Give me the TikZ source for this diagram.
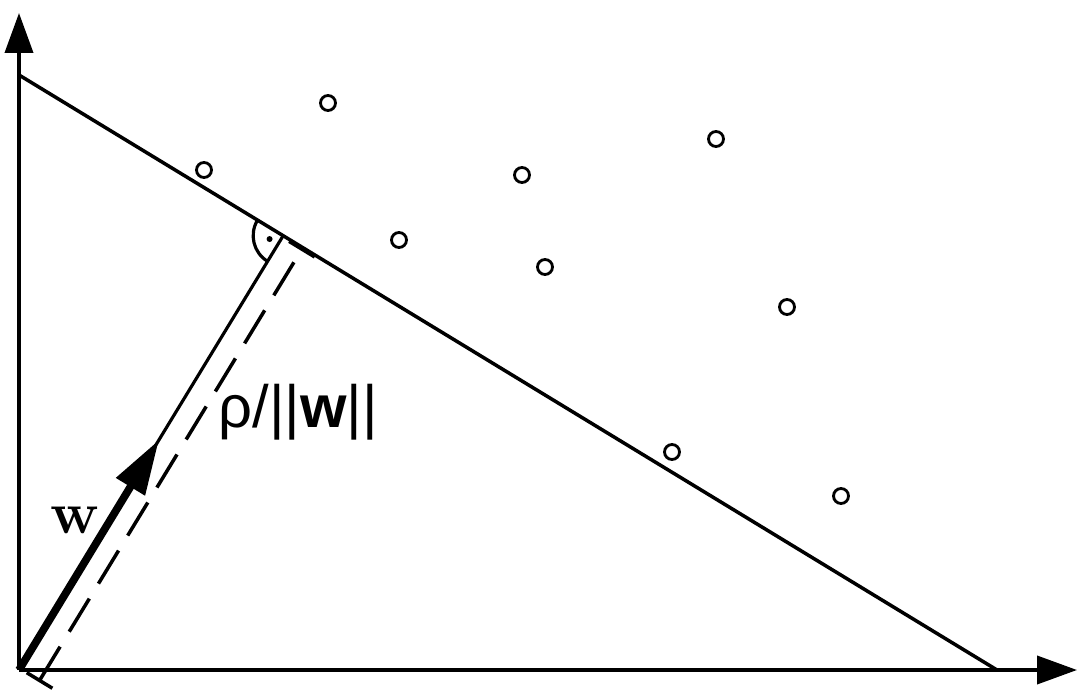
\documentclass[tikz,border=0pt]{standalone}
\usepackage{fontspec}
\newfontfamily\etiqueta{Liberation Sans}
\usetikzlibrary{arrows.meta,calc}

\tikzset{
  eje/.style={line width=1.1pt, -{Triangle[length=4mm,width=2.8mm]}},
  punto/.style={circle, draw, line width=0.8pt, inner sep=0pt, minimum size=0.15cm},
}

\begin{document}
\begin{tikzpicture}
  \useasboundingbox (0,0) rectangle (10.83,6.93);

  % Ejes
  \coordinate (O) at (0.19,0.23);
  \coordinate (Y) at (0.19,6.80);
  \coordinate (X) at (10.77,0.23);
  \draw[eje] (O) -- (Y);
  \draw[eje] (O) -- (X);

  % Hiperplano separador
  \coordinate (A) at (0.19,6.18);
  \coordinate (B) at (9.97,0.23);
  \draw[line width=1pt] (A) -- (B);

  % Pie de la perpendicular desde el origen
  \coordinate (F) at ($(A)!(O)!(B)$);
  \draw[line width=0.9pt] (O) -- (F);

  % Marca de angulo recto
  \draw[line width=0.9pt] ($(F)+(148.8:0.3)$) arc[start angle=148.8, end angle=238.8, radius=0.3];
  \fill ($(F)+(193.8:0.14)$) circle[radius=0.03];

  % Distancia rho/||w|| (linea discontinua)
  \coordinate (D0) at ($(O)!0.23cm!-90:(F)$);
  \coordinate (D1) at ($(F)!0.23cm!90:(O)$);
  \draw[line width=1pt, dash pattern=on 11pt off 5pt, {Bar[width=3mm]}-{Bar[width=3mm]}] (D0) -- (D1);
  \node[font=\etiqueta\fontsize{17}{20}\selectfont] (rho) at (2.98,2.81) {ρ/||{\bfseries w}||};

  % Vector normal w
  \coordinate (W) at ($(O)!0.53!(F)$);
  \draw[line width=2.2pt, -{Triangle[length=5.5mm,width=3.2mm]}] (O) -- (W);
  \node[font=\fontsize{17}{20}\selectfont\bfseries] (w) at (0.75,1.73) {w};

  % Puntos de la muestra
  \foreach \x/\y [count=\i] in {3.28/5.90, 2.04/5.23, 5.22/5.18, 7.16/5.54, 3.99/4.53,
                                5.45/4.26, 7.87/3.86, 6.72/2.41, 8.41/1.97}
    \node[punto] (p\i) at (\x,\y) {};
\end{tikzpicture}
\end{document}
